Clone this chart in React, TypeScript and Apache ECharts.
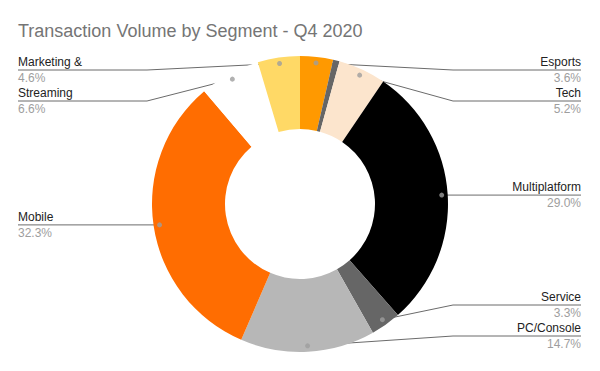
import React, { useEffect, useRef } from "react";
import * as echarts from "echarts";

const titleText = "Transaction Volume by Segment - Q4 2020";
const categories = ["Esports", "Other", "Tech", "Multiplatform", "Service", "PC/Console", "Mobile", "Streaming", "Marketing &"];
const values = [3.6, 0.7, 5.2, 29.0, 3.3, 14.7, 32.3, 6.6, 4.6];
const showLabel = [true, false, true, true, true, true, true, true, true];
const colors = ["#ff9900", "#666666", "#fce5cd", "#000000", "#666666", "#b7b7b7", "#ff6d01", "#ffffff", "#ffd966"];

const CX = 300;
const CY = 204;
const R_OUT = 148;
const R_IN = 75;
const R_DOT = 142;
const BEND = 153;
const LEFT_X = 18;
const RIGHT_X = 581;
const Y_MIN = 70;
const Y_MAX = 336;
const GAP = 31;

const total = values.reduce((a, b) => a + b, 0);
const midPct: number[] = [];
{
  let cum = 0;
  values.forEach((v) => {
    midPct.push(((cum + v / 2) / total) * 100);
    cum += v;
  });
}
const theta = midPct.map((p) => (p * 3.6 * Math.PI) / 180);
const dotX = theta.map((t) => CX + R_DOT * Math.sin(t));
const dotY = theta.map((t) => CY - R_DOT * Math.cos(t));
const isRight = theta.map((t) => Math.sin(t) >= 0);

const labelY: number[] = dotY.slice();
[true, false].forEach((side) => {
  const idx = categories
    .map((_, i) => i)
    .filter((i) => showLabel[i] && isRight[i] === side)
    .sort((a, b) => dotY[a] - dotY[b]);
  const ys = idx.map((i) => Math.min(Y_MAX, Math.max(Y_MIN, dotY[i])));
  for (let k = 1; k < ys.length; k++) ys[k] = Math.max(ys[k], ys[k - 1] + GAP);
  if (ys.length) ys[ys.length - 1] = Math.min(ys[ys.length - 1], Y_MAX);
  for (let k = ys.length - 2; k >= 0; k--) ys[k] = Math.min(ys[k], ys[k + 1] - GAP);
  idx.forEach((i, k) => (labelY[i] = ys[k]));
});

const FONT = "'Liberation Sans', Arial, sans-serif";

export default function App() {
  const ref = useRef<HTMLDivElement>(null);
  useEffect(() => {
    if (!ref.current) return;
    const chart = echarts.init(ref.current, undefined, { renderer: "svg" });
    chart.setOption({
      animation: false,
      backgroundColor: "#ffffff",
      title: {
        text: titleText,
        left: 18,
        top: 22,
        padding: 0,
        textStyle: {
          fontFamily: FONT,
          fontSize: 18,
          fontWeight: "normal",
          color: "#757575",
        },
      },
      polar: { center: [CX, CY], radius: R_OUT },
      angleAxis: { type: "value", min: 0, max: 100, startAngle: 90, clockwise: true, show: false },
      radiusAxis: { type: "value", min: 0, max: R_OUT, show: false },
      series: [
        {
          type: "pie",
          center: [CX, CY],
          radius: [R_IN, R_OUT],
          startAngle: 90,
          clockwise: true,
          avoidLabelOverlap: false,
          data: categories.map((name, i) => ({
            name,
            value: values[i],
            itemStyle: { color: colors[i] },
            label: { show: showLabel[i] },
            labelLine: { show: showLabel[i] },
          })),
          label: {
            show: true,
            position: "outside",
            fontFamily: FONT,
            formatter: (p: any) => `{n|${p.name}}\n{p|${(+p.value).toFixed(1)}%}`,
            rich: {
              n: { fontSize: 12, color: "#222222", lineHeight: 16, fontFamily: FONT },
              p: { fontSize: 12, color: "#9e9e9e", lineHeight: 16, fontFamily: FONT },
            },
          },
          labelLine: {
            show: true,
            length: 10,
            length2: 10,
            lineStyle: { color: "#6b6b6b", width: 1 },
          },
          labelLayout: (params: any) => {
            const i = params.dataIndex;
            if (!showLabel[i]) return {};
            const right = isRight[i];
            const y = labelY[i];
            const edgeX = right ? RIGHT_X : LEFT_X;
            const bendX = right ? CX + BEND : CX - BEND;
            return {
              x: edgeX,
              y,
              align: right ? "right" : "left",
              verticalAlign: "middle",
              labelLinePoints: [
                [dotX[i], dotY[i]],
                [bendX, y],
                [edgeX, y],
              ],
            };
          },
          emphasis: { disabled: true },
        },
        {
          type: "scatter",
          coordinateSystem: "polar",
          z: 5,
          symbol: "circle",
          symbolSize: 5,
          itemStyle: { color: "#9e9e9e" },
          silent: true,
          data: categories
            .map((_, i) => i)
            .filter((i) => showLabel[i])
            .map((i) => [R_DOT, midPct[i]]),
        },
      ],
    });
    return () => chart.dispose();
  }, []);
  return <div ref={ref} style={{ width: 600, height: 371, position: "absolute", left: 0, top: 0 }} />;
}
